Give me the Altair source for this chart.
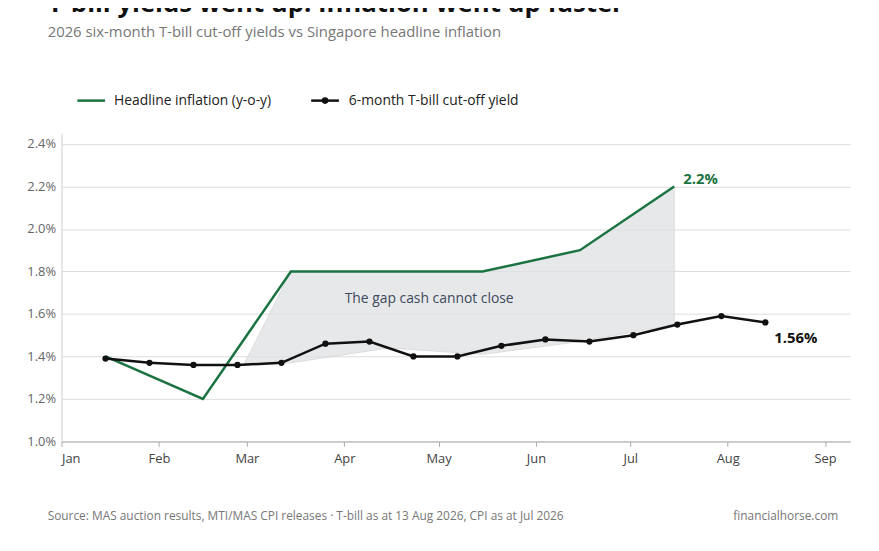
import altair as alt
import pandas as pd

tb_dates = ["2026-01-15","2026-01-29","2026-02-12","2026-02-26","2026-03-12","2026-03-26",
            "2026-04-09","2026-04-23","2026-05-07","2026-05-21","2026-06-04","2026-06-18",
            "2026-07-02","2026-07-16","2026-07-30","2026-08-13"]
tb_vals = [1.39,1.37,1.36,1.36,1.37,1.46,1.47,1.40,1.40,1.45,1.48,1.47,1.50,1.55,1.59,1.56]

inf_dates = ["2026-01-15","2026-02-15","2026-03-15","2026-04-15","2026-05-15","2026-06-15","2026-07-15"]
inf_vals = [1.40,1.20,1.80,1.80,1.80,1.90,2.20]

gap_dates = ["2026-02-28","2026-03-15","2026-04-15","2026-05-15","2026-06-15","2026-07-15"]
gap_top = [1.36,1.80,1.80,1.80,1.90,2.20]
gap_bot = [1.36,1.37,1.44,1.41,1.47,1.55]

GREEN = "#1a7340"
FONT = "Open Sans"

tb = pd.DataFrame({"date": tb_dates, "v": [v/100 for v in tb_vals]})
inf = pd.DataFrame({"date": inf_dates, "v": [v/100 for v in inf_vals]})
gap = pd.DataFrame({"date": gap_dates, "v": [v/100 for v in gap_top], "bot": [v/100 for v in gap_bot]})

XS = alt.Scale(domain=["2026-01-01","2026-09-09"])
YS = alt.Scale(domain=[0.01, 0.0245], nice=False, zero=False)

x = alt.X("date:T", scale=XS,
          axis=alt.Axis(format="%b", tickCount="month", grid=False, title=None, labelFontSize=13,
                        labelColor="#444", domainColor="#aaa", tickColor="#aaa", labelPadding=6))
y = alt.Y("v:Q", scale=YS,
          axis=alt.Axis(format=".1%", values=[0.01,0.012,0.014,0.016,0.018,0.02,0.022,0.024],
                        title=None, labelFontSize=13, labelColor="#666", gridColor="#ddd",
                        domainColor="#ccc", ticks=False, labelPadding=6))
xs = alt.X("date:T", scale=XS)
ys = alt.Y("v:Q", scale=YS)

area = alt.Chart(gap).mark_area(color="#dfe1e4", opacity=0.75, stroke="#c8c8c8", strokeWidth=0.8).encode(
    x=x, y=y, y2="bot:Q")
infl = alt.Chart(inf).mark_line(color=GREEN, strokeWidth=2.5).encode(x=xs, y=ys)
tbl = alt.Chart(tb).mark_line(color="#111", strokeWidth=2.5).encode(x=xs, y=ys)
tbp = alt.Chart(tb).mark_circle(color="#111", size=40, opacity=1).encode(x=xs, y=ys)

lab_inf = alt.Chart(inf.tail(1)).mark_text(align="left", dx=9, dy=-7, fontSize=15, fontWeight="bold",
                                           color=GREEN, font=FONT).encode(
    x=xs, y=ys, text=alt.value("2.2%"))
lab_tb = alt.Chart(tb.tail(1)).mark_text(align="left", dx=9, dy=16, fontSize=15, fontWeight="bold",
                                         color="#111", font=FONT).encode(
    x=xs, y=ys, text=alt.value("1.56%"))
gap_txt = alt.Chart(pd.DataFrame({"date": ["2026-04-28"], "v": [0.0167]})).mark_text(
    fontSize=14, color="#3d4a5c", font=FONT).encode(x=xs, y=ys, text=alt.value("The gap cash cannot close"))

one = pd.DataFrame({"a": [0]})
leg_line = alt.Chart(one).mark_rule(color=GREEN, strokeWidth=2.5).encode(
    x=alt.value(16), x2=alt.value(44), y=alt.value(-33))
leg_t1 = alt.Chart(one).mark_text(align="left", fontSize=14, color="#222", font=FONT).encode(
    x=alt.value(53), y=alt.value(-33), text=alt.value("Headline inflation (y-o-y)"))
leg_line2 = alt.Chart(one).mark_rule(color="#111", strokeWidth=2.5).encode(
    x=alt.value(252), x2=alt.value(280), y=alt.value(-33))
leg_dot = alt.Chart(one).mark_circle(color="#111", size=45, opacity=1).encode(
    x=alt.value(266), y=alt.value(-33))
leg_t2 = alt.Chart(one).mark_text(align="left", fontSize=14, color="#222", font=FONT).encode(
    x=alt.value(290), y=alt.value(-33), text=alt.value("6-month T-bill cut-off yield"))

foot1 = alt.Chart(one).mark_text(align="left", fontSize=12, color="#777", font=FONT).encode(
    x=alt.value(-14), y=alt.value(386),
    text=alt.value("Source: MAS auction results, MTI/MAS CPI releases · T-bill as at 13 Aug 2026, CPI as at Jul 2026"))
foot2 = alt.Chart(one).mark_text(align="right", fontSize=12, color="#777", font=FONT).encode(
    x=alt.value(784), y=alt.value(386), text=alt.value("financialhorse.com"))

chart = alt.layer(area, infl, tbl, tbp, lab_inf, lab_tb, gap_txt,
                  leg_line, leg_t1, leg_line2, leg_dot, leg_t2, foot1, foot2).properties(
    width=796, height=311, autosize=alt.AutoSizeParams(type="none"),
    padding={"left": 54, "top": 124, "right": 21, "bottom": 100},
    title=alt.TitleParams("T-bill yields went up. Inflation went up faster",
                          subtitle="2026 six-month T-bill cut-off yields vs Singapore headline inflation",
                          anchor="start", frame="group", dx=-14, offset=54, font=FONT, fontSize=26,
                          fontWeight="bold", color="#111", subtitleFont=FONT, subtitleFontSize=15,
                          subtitleColor="#777", subtitlePadding=8)
).configure_view(stroke=None).configure_axis(labelFont=FONT)

chart.save("out.html", embed_options={"renderer": "svg", "actions": False})
